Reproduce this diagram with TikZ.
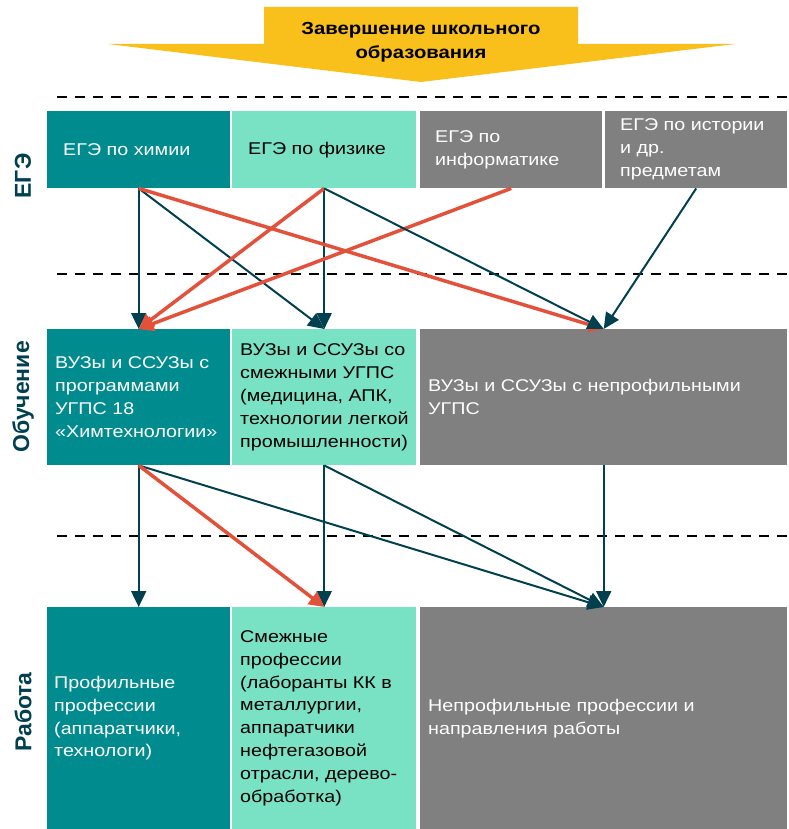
\documentclass[tikz,border=0pt]{standalone}
\usepackage{fontspec}
\setmainfont{Liberation Sans}[FakeStretch=1.16]
\newfontfamily\labfont{Liberation Sans}
\usetikzlibrary{arrows.meta}
\definecolor{tealA}{HTML}{008B8F}
\definecolor{mintA}{HTML}{79E2C4}
\definecolor{grayA}{HTML}{808080}
\definecolor{darkA}{HTML}{00404F}
\definecolor{redA}{HTML}{E4513B}
\definecolor{yellowA}{HTML}{F9BF1B}
\newcommand{\boxfont}{\fontsize{17}{22.9}\selectfont}
\begin{document}
\begin{tikzpicture}[x=1pt,y=-1pt,
  cell/.style={draw=none, inner sep=0pt, anchor=north west, minimum height=#1},
  wtxt/.style={inner sep=0pt, anchor=west, align=left, font=\boxfont, text=white},
  btxt/.style={inner sep=0pt, anchor=west, align=left, font=\boxfont, text=black},
  rowlab/.style={inner sep=0pt, rotate=90, font=\labfont\fontsize{23}{26}\selectfont\bfseries, text=darkA},
  dashline/.style={draw=black, line width=2.5pt, dash pattern=on 10pt off 8pt},
  darr/.style={draw=darkA, line width=2pt, -{Triangle[length=16pt,width=15pt]}},
  rarr/.style={draw=redA, line width=3.5pt, -{Triangle[length=15pt,width=15pt]}}]
\useasboundingbox (0,0) rectangle (788,829);
\fill[white] (0,0) rectangle (788,829);

% top arrow
\fill[yellowA] (264,7) -- (578,7) -- (578,44) -- (735,44) -- (421,82) -- (108,44) -- (264,44) -- cycle;
\node[inner sep=0pt, align=center, font=\fontsize{17.5}{24.5}\selectfont\bfseries] (title) at (421,42) {Завершение школьного\\образования};

% dashed separators
\draw[dashline] (57,97) -- (788,97);
\draw[dashline] (57,274) -- (788,274);
\draw[dashline] (57,536) -- (788,536);

% row labels
\node[rowlab] (labE) at (23,176) {ЕГЭ};
\node[rowlab] (labO) at (23,397) {Обучение};
\node[rowlab] (labR) at (23,712) {Работа};

% row 1
\node[cell=77pt, fill=tealA, minimum width=183pt] (e1) at (47,111) {};
\node[cell=77pt, fill=mintA, minimum width=184pt] (e2) at (232,111) {};
\node[cell=77pt, fill=grayA, minimum width=182pt] (e3) at (420,111) {};
\node[cell=77pt, fill=grayA, minimum width=182pt] (e4) at (605,111) {};
\node[wtxt] (te1) at ([xshift=16pt]e1.west) {ЕГЭ по химии};
\node[btxt] (te2) at ([xshift=16pt]e2.west) {ЕГЭ по физике};
\node[wtxt] (te3) at ([xshift=15pt]e3.west) {ЕГЭ по\\информатике};
\node[wtxt] (te4) at ([xshift=15pt]e4.west) {ЕГЭ по истории\\и др.\\предметам};

% row 2
\node[cell=136pt, fill=tealA, minimum width=183pt] (o1) at (47,329) {};
\node[cell=136pt, fill=mintA, minimum width=184pt] (o2) at (232,329) {};
\node[cell=136pt, fill=grayA, minimum width=367pt] (o3) at (420,329) {};
\node[wtxt] (to1) at ([xshift=8pt]o1.west) {ВУЗы и ССУЗы с\\программами\\УГПС 18\\«Химтехнологии»};
\node[btxt] (to2) at ([xshift=8pt]o2.west) {ВУЗы и ССУЗы со\\смежными УГПС\\(медицина, АПК,\\технологии легкой\\промышленности)};
\node[wtxt] (to3) at ([xshift=8pt]o3.west) {ВУЗы и ССУЗы с непрофильными\\УГПС};

% row 3
\node[cell=222pt, fill=tealA, minimum width=183pt] (r1) at (47,607) {};
\node[cell=222pt, fill=mintA, minimum width=184pt] (r2) at (232,607) {};
\node[cell=222pt, fill=grayA, minimum width=367pt] (r3) at (420,607) {};
\node[wtxt] (tr1) at ([xshift=7pt]r1.west) {Профильные\\профессии\\(аппаратчики,\\технологи)};
\node[btxt] (tr2) at ([xshift=8pt]r2.west) {Смежные\\профессии\\(лаборанты КК в\\металлургии,\\аппаратчики\\нефтегазовой\\отрасли, дерево-\\обработка)};
\node[wtxt] (tr3) at ([xshift=8pt]r3.west) {Непрофильные профессии и\\направления работы};

% connectors row1 -> row2
\draw[darr] (e1.south) -- (o1.north);
\draw[darr] (e1.south) -- (o2.north);
\draw[darr] (e2.south) -- (o2.north);
\draw[rarr] (e1.south) -- (o3.north);
\draw[rarr] (e2.south) -- (o1.north);
\draw[rarr] (e3.south) -- (o1.north);
\draw[darr] (e2.south) -- (o3.north);
\draw[darr] (e4.south) -- (o3.north);

% connectors row2 -> row3
\draw[darr] (o1.south) -- (r1.north);
\draw[darr] (o1.south) -- (r3.north);
\draw[darr] (o2.south) -- (r2.north);
\draw[darr] (o2.south) -- (r3.north);
\draw[darr] (o3.south) -- (r3.north);
\draw[rarr] (o1.south) -- (r2.north);
\end{tikzpicture}
\end{document}
